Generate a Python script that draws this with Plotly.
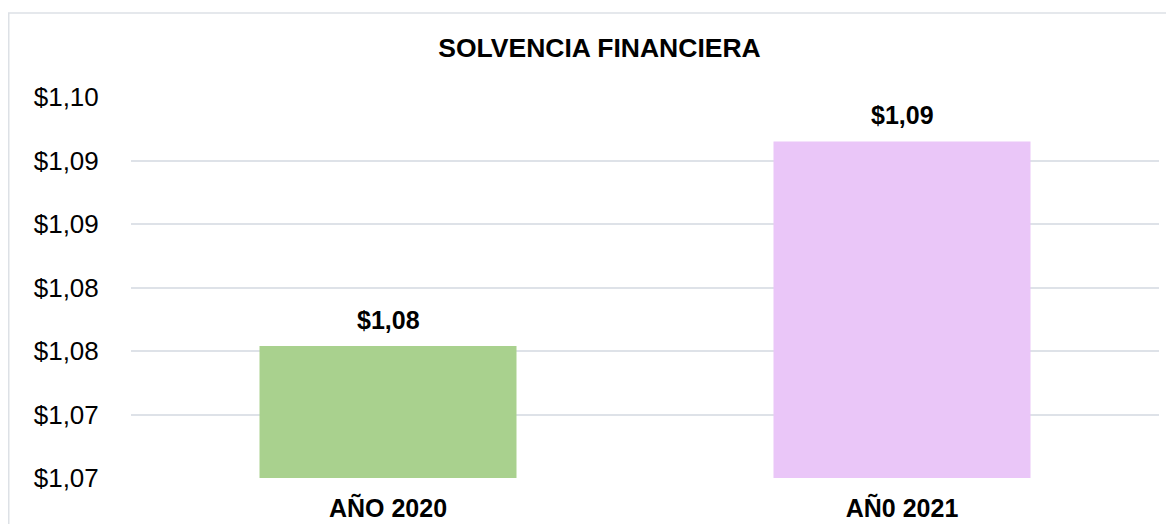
import plotly.graph_objects as go

categories = ["AÑO 2020", "AÑ0 2021"]
values = [1.0754, 1.0915]
value_labels = ["$1,08", "$1,09"]
bar_colors = ["#A9D18E", "#EAC6F8"]
tick_vals = [1.065, 1.070, 1.075, 1.080, 1.085, 1.090, 1.095]
tick_text = ["$1,07", "$1,07", "$1,08", "$1,08", "$1,09", "$1,09", "$1,10"]
title_text = "SOLVENCIA FINANCIERA"

W, H = 1158, 516
ml, mr, mt, mb = 123, 7, 89, 46
FONT = "Liberation Sans, Arial, sans-serif"

fig = go.Figure()
fig.add_trace(go.Bar(
    x=categories, y=values, marker=dict(color=bar_colors, line=dict(width=0)),
    hoverinfo="skip",
))

for c, v, t in zip(categories, values, value_labels):
    fig.add_annotation(x=c, y=v, text="<b>%s</b>" % t, showarrow=False,
                       xref="x", yref="y", yanchor="bottom", yshift=10,
                       font=dict(family=FONT, size=25, color="#000000"))

pw = W - ml - mr
ph = H - mt - mb
fig.add_shape(type="rect", xref="paper", yref="paper",
              x0=(0.75 - ml) / pw, x1=(W + 20 - ml) / pw,
              y0=(H - mb - (H + 20)) / ph, y1=(H - mb - 5) / ph,
              line=dict(color="#DDE1E6", width=1.5), fillcolor="rgba(0,0,0,0)", layer="below")

fig.update_layout(
    width=W, height=H,
    margin=dict(l=ml, r=mr, t=mt, b=mb, pad=0, autoexpand=False),
    paper_bgcolor="white", plot_bgcolor="white",
    bargap=0.5,
    showlegend=False,
    title=dict(text="<b>%s</b>" % title_text, x=591.5 / W, xanchor="center",
               y=1 - 40 / H, yanchor="middle",
               font=dict(family=FONT, size=26.5, color="#000000")),
    xaxis=dict(showgrid=False, showline=False, zeroline=False, automargin=False,
               ticks="outside", ticklen=8, tickcolor="rgba(0,0,0,0)",
               tickfont=dict(family=FONT, size=25, color="#000000"),
               tickprefix="<b>", ticksuffix="</b>", fixedrange=True),
    yaxis=dict(range=[1.065, 1.095], tickvals=tick_vals, ticktext=tick_text,
               showgrid=True, gridcolor="#DEE2E8", gridwidth=1.5, automargin=False,
               showline=False, zeroline=False,
               ticks="outside", ticklen=26, tickcolor="rgba(0,0,0,0)",
               tickfont=dict(family=FONT, size=26, color="#000000"), fixedrange=True),
)

fig.write_html("out.html")
